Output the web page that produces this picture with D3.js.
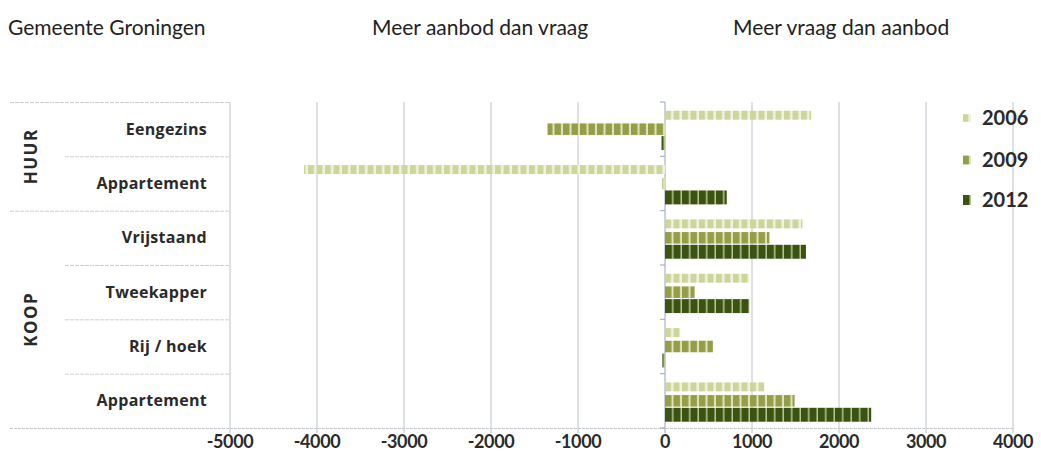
<!DOCTYPE html>
<html><head><meta charset="utf-8">
<script src="https://cdn.jsdelivr.net/npm/d3@7"></script>
<style>
body{margin:0;background:#fff;}
svg{display:block;}
</style></head><body>
<svg id="chart" width="1041" height="470"></svg>
<script>
const categories = ["Eengezins","Appartement","Vrijstaand","Tweekapper","Rij / hoek","Appartement"];
const groupLabels = ["HUUR","KOOP"];
const groupSizes = [2,4];
const seriesNames = ["2006","2009","2012"];
const v2006 = [1680, -4150, 1580, 970, 170, 1140];
const v2009 = [-1350, -30, 1200, 340, 550, 1490];
const v2012 = [-40, 710, 1620, 970, -30, 2370];
const xTicks = [-5000,-4000,-3000,-2000,-1000,0,1000,2000,3000,4000];
const titles = ["Gemeente Groningen","Meer aanbod dan vraag","Meer vraag dan aanbod"];

const series = [v2006, v2009, v2012];
const svg = d3.select("#chart");
const x = d3.scaleLinear().domain([-5000,4000]).range([230,1013]);
const y = d3.scaleBand().domain(d3.range(categories.length)).range([102,428]).padding(0);
const ySub = d3.scaleBand().domain(d3.range(3)).range([0,y.bandwidth()]).paddingInner(0).paddingOuter(0.45);

const fills = [
  {fg:"#cdd59a", bg:"#f1f3e2", w:6, gap:2.5, inset:2.5},
  {fg:"#959e46", bg:"#dfe3c0", w:6.5, gap:2, inset:1.2},
  {fg:"#3a5312", bg:"#b9c493", w:7, gap:1.5, inset:0}
];
const defs = svg.append("defs");
fills.forEach((f,i)=>{
  const p = defs.append("pattern").attr("id","pat"+i).attr("patternUnits","userSpaceOnUse")
    .attr("width", f.w+f.gap).attr("height", 20).attr("x", x(0));
  p.append("rect").attr("width", f.w+f.gap).attr("height",20).attr("fill", f.bg);
  p.append("rect").attr("width", f.w).attr("height",20).attr("fill", f.fg);
});

// titles
const tf = "'Lato','Open Sans',sans-serif";
svg.selectAll("text.title").data(titles).join("text").attr("class","title")
  .attr("x",(d,i)=>[8,372,733][i]).attr("y",35)
  .attr("font-family",tf).attr("font-size",21).attr("fill","#222").attr("letter-spacing",0)
  .text(d=>d);

// gridlines
svg.append("g").selectAll("line").data(xTicks).join("line")
  .attr("x1",d=>x(d)).attr("x2",d=>x(d)).attr("y1",102).attr("y2",433)
  .attr("stroke",d=>d===0?"#9aa6b8":"#bcc2cc").attr("stroke-width",1);

// bottom axis line
svg.append("line").attr("x1",10).attr("x2",x(4000)).attr("y1",428.5).attr("y2",428.5)
  .attr("stroke","#c4c8cf").attr("stroke-width",1).attr("stroke-dasharray","3,1");

// category separators in label area
const bounds = d3.range(categories.length+1).map(i=> i<categories.length ? y(i) : y(categories.length-1)+y.bandwidth());
const groupBounds = [0];
groupSizes.reduce((a,s)=>{groupBounds.push(a+s);return a+s;},0);
svg.append("g").selectAll("line").data(d3.range(categories.length)).join("line")
  .attr("x1",i=>groupBounds.includes(i)?10:65).attr("x2",230)
  .attr("y1",i=>bounds[i]+0.5).attr("y2",i=>bounds[i]+0.5)
  .attr("stroke","#cdd0d6").attr("stroke-width",1).attr("stroke-dasharray","4,1");
// category ticks on zero axis
svg.append("g").selectAll("line").data(bounds).join("line")
  .attr("x1",x(0)-5).attr("x2",x(0)).attr("y1",d=>d).attr("y2",d=>d)
  .attr("stroke","#9aa6b8");

// category labels
const lf = "'Open Sans','DejaVu Sans',sans-serif";
svg.selectAll("text.cat").data(categories).join("text").attr("class","cat")
  .attr("x",207).attr("y",(d,i)=>y(i)+y.bandwidth()/2+5.5)
  .attr("text-anchor","end").attr("font-family",lf).attr("font-weight",700)
  .attr("font-size",16).attr("fill","#2a2a2a").attr("letter-spacing",0.3).text(d=>d);

// group labels
groupLabels.forEach((g,gi)=>{
  const a = bounds[groupBounds[gi]], b = bounds[groupBounds[gi+1]];
  const cy = (a+b)/2;
  svg.append("text").attr("transform",`translate(37,${cy}) rotate(-90)`)
    .attr("text-anchor","middle").attr("font-family",lf).attr("font-weight",700)
    .attr("font-size",17).attr("letter-spacing",1.5).attr("fill","#2a2a2a").text(g);
});

// bars
series.forEach((vals,si)=>{
  const f = fills[si];
  svg.append("g").selectAll("rect").data(vals).join("rect")
    .attr("x",d=>x(Math.min(0,d))).attr("width",d=>Math.abs(x(d)-x(0)))
    .attr("y",(d,i)=>y(i)+ySub(si)+f.inset).attr("height",ySub.bandwidth()-2*f.inset)
    .attr("fill",`url(#pat${si})`);
});

// x tick labels
svg.selectAll("text.tick").data(xTicks).join("text").attr("class","tick")
  .attr("x",d=>x(d)).attr("y",448).attr("text-anchor","middle")
  .attr("font-family",tf).attr("font-weight",700).attr("font-size",18).attr("fill","#2a2a2a")
  .attr("letter-spacing",-0.4).text(d=>d<0?"-"+Math.abs(d):d);

// legend
const leg = svg.append("g");
seriesNames.forEach((s,i)=>{
  const ly = [118,160,200][i];
  const f = fills[i];
  leg.append("rect").attr("x",963).attr("y",ly-5+f.inset/2).attr("width",8).attr("height",10-f.inset)
    .attr("fill",`url(#pat${i})`);
  leg.append("text").attr("x",982).attr("y",ly+7).attr("font-family",tf).attr("font-weight",700)
    .attr("font-size",20).attr("fill","#2a2a2a").text(s);
});
</script></body></html>
